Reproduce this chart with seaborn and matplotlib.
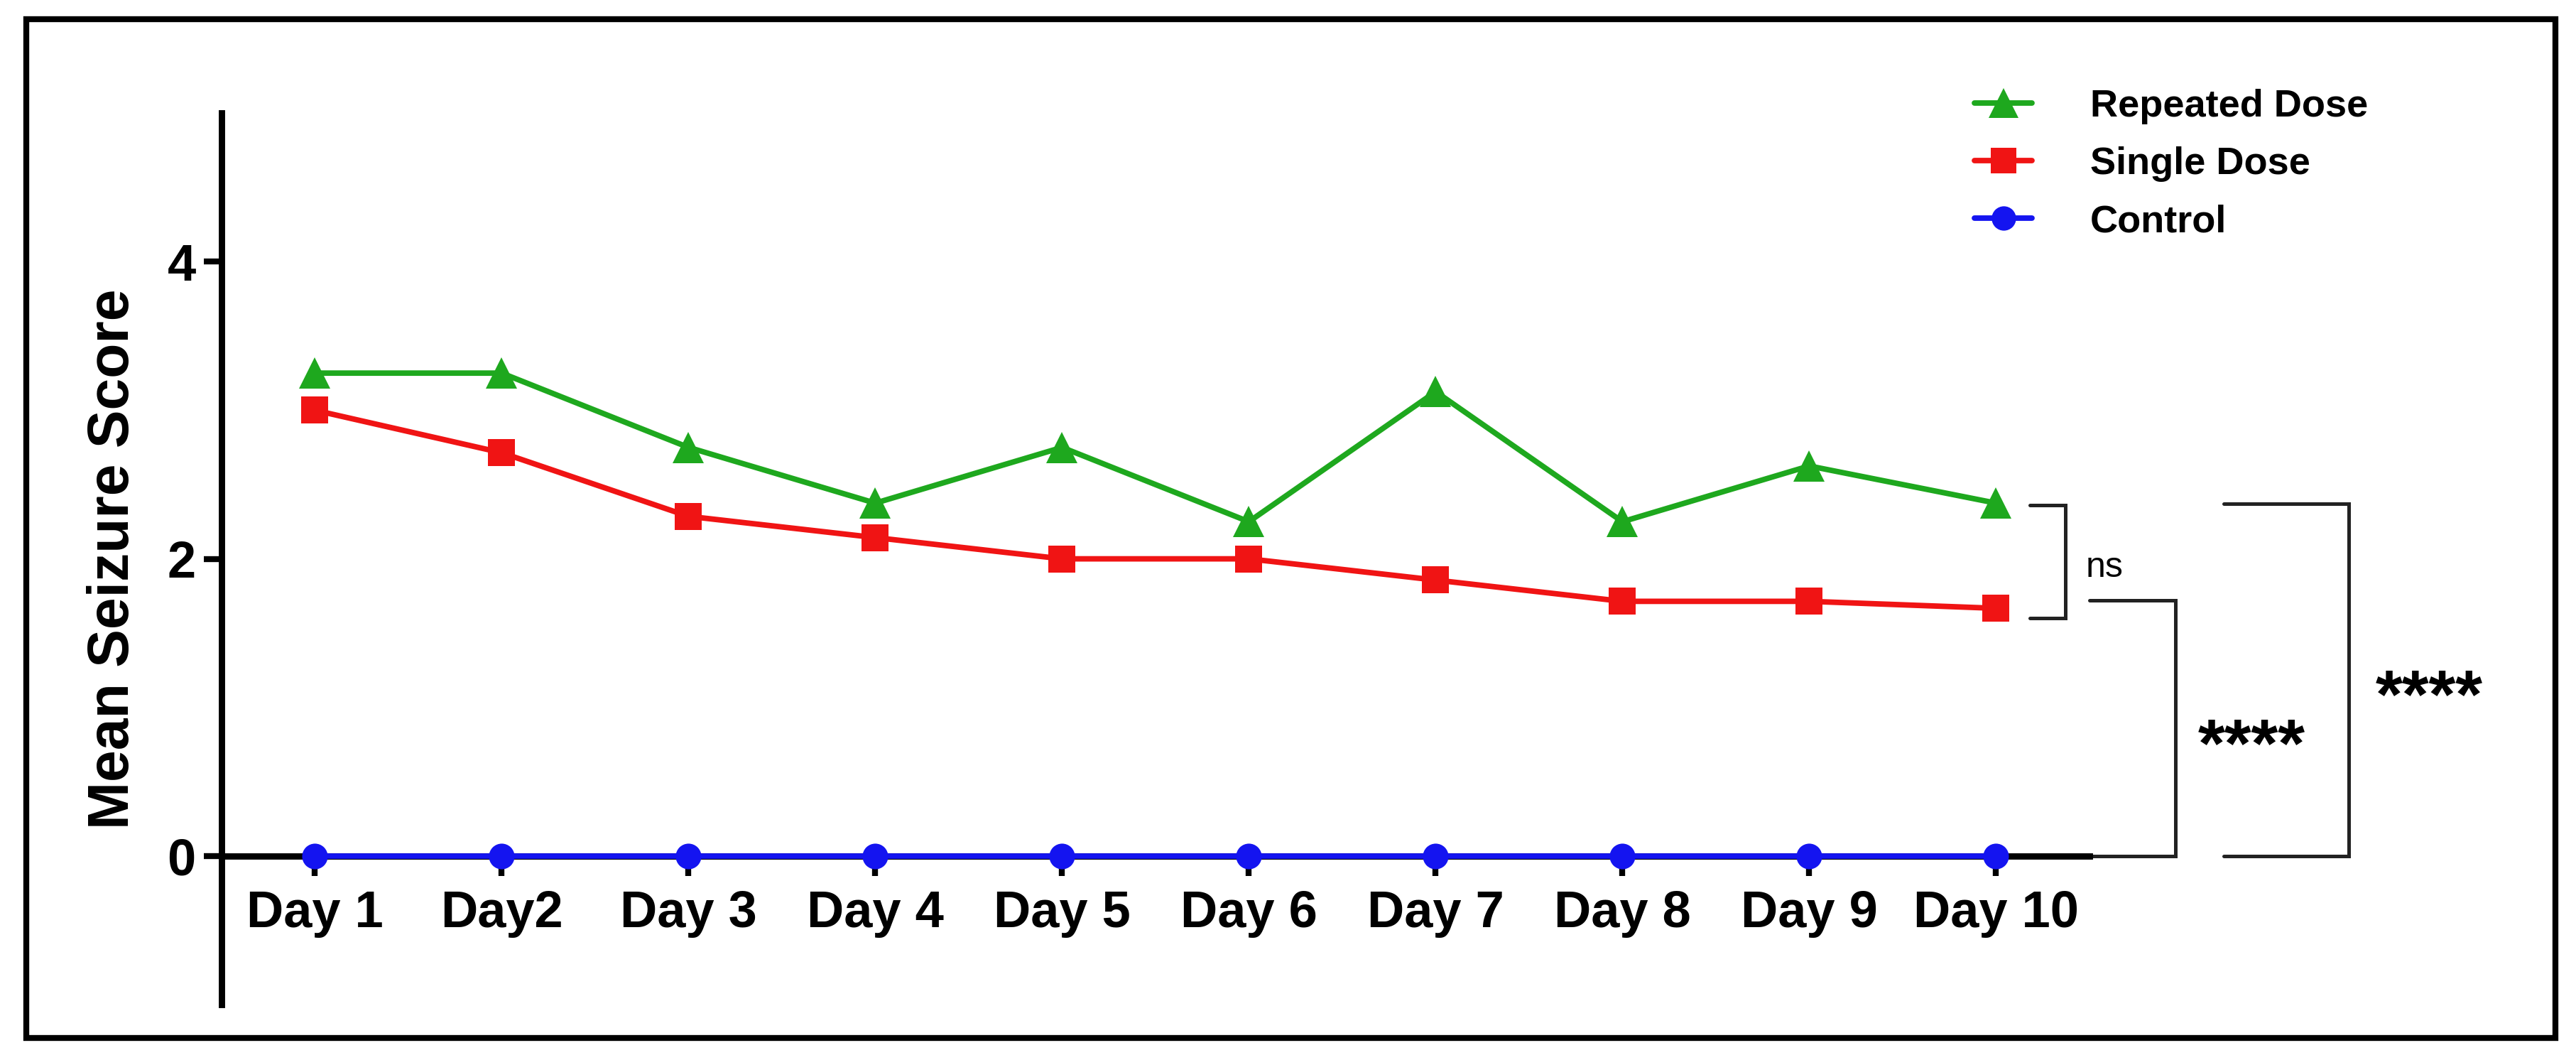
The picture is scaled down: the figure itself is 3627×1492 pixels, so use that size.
import pandas as pd
import matplotlib.pyplot as plt
import seaborn as sns
from matplotlib.patches import Rectangle

days = ['Day 1', 'Day2', 'Day 3', 'Day 4', 'Day 5', 'Day 6', 'Day 7', 'Day 8', 'Day 9', 'Day 10']
repeated_dose = [3.25, 3.25, 2.75, 2.375, 2.75, 2.25, 3.125, 2.25, 2.625, 2.375]
single_dose = [3.0, 2.714, 2.286, 2.143, 2.0, 2.0, 1.857, 1.714, 1.714, 1.667]
control = [0, 0, 0, 0, 0, 0, 0, 0, 0, 0]

groups = ['Repeated Dose', 'Single Dose', 'Control']
colors = {'Repeated Dose': '#1ea81e', 'Single Dose': '#f01414', 'Control': '#1414f0'}
markers = {'Repeated Dose': '^', 'Single Dose': 's', 'Control': 'o'}
msizes = {'Repeated Dose': 16, 'Single Dose': 13.5, 'Control': 13}

sns.set_style('ticks')
plt.rcParams['font.family'] = ['Liberation Sans', 'DejaVu Sans']
plt.rcParams.update({'text.color': 'black', 'axes.labelcolor': 'black',
                     'xtick.color': 'black', 'ytick.color': 'black',
                     'axes.edgecolor': 'black'})

fig = plt.figure(figsize=(18.135, 7.46), dpi=200)
ax = fig.add_axes([0.086, 0.0523, 0.7251, 0.841])

day_idx = list(range(len(days)))
series = {'Repeated Dose': repeated_dose, 'Single Dose': single_dose, 'Control': control}
for g in groups:
    df = pd.DataFrame({'day': day_idx, 'score': series[g]})
    sns.lineplot(data=df, x='day', y='score', color=colors[g], marker=markers[g],
                 markersize=msizes[g], markeredgewidth=0, linewidth=2.8,
                 label=g, zorder=4, clip_on=False, ax=ax)

for s in ['top', 'right']:
    ax.spines[s].set_visible(False)
ax.spines['bottom'].set_position(('data', 0))
ax.spines['left'].set_linewidth(3.2)
ax.spines['bottom'].set_linewidth(3.2)

ax.set_xlim(-0.5, 9.5)
ax.set_ylim(-1, 5)
ax.set_xticks(day_idx)
ax.set_xticklabels(days, fontsize=26, fontweight='bold')
ax.set_yticks([0, 2, 4])
ax.set_yticklabels(['0', '2', '4'], fontsize=26, fontweight='bold')
ax.set_xlabel('')
ax.set_ylabel('Mean Seizure Score', fontsize=29, fontweight='bold')
ax.yaxis.set_label_coords(-0.0433, 0.5)
ax.tick_params(axis='x', length=10, width=3, pad=7, color='black')
ax.tick_params(axis='y', length=9, width=3, pad=4, color='black')

# legend
handles, labels = ax.get_legend_handles_labels()
order = [labels.index(g) for g in groups]
leg = ax.legend([handles[i] for i in order], [labels[i] for i in order],
                loc='upper left', bbox_to_anchor=(0.7665, 0.916),
                bbox_transform=fig.transFigure, frameon=False,
                prop={'size': 19.5, 'weight': 'bold'}, handlelength=1.5,
                handletextpad=1.5, labelspacing=0.57, borderpad=0,
                borderaxespad=0, markerscale=0.95)

# significance brackets
bk = dict(color='#222222', lw=1.8, clip_on=False, solid_joinstyle='miter')
ax.plot([9.18, 9.37, 9.37, 9.18], [2.36, 2.36, 1.60, 1.60], **bk)
ax.plot([9.50, 9.96, 9.96, 9.50], [1.72, 1.72, 0, 0], **bk)
ax.plot([10.22, 10.89, 10.89, 10.22], [2.37, 2.37, 0, 0], **bk)
ax.text(9.48, 1.94, 'ns', fontsize=18, ha='left', va='center', clip_on=False)
ax.text(10.37, 0.72, '****', fontsize=35, fontweight='bold', ha='center', va='center')
ax.text(11.32, 1.05, '****', fontsize=35, fontweight='bold', ha='center', va='center')

# outer frame
fig.add_artist(Rectangle((0.0103, 0.0208), 0.992 - 0.0103, 0.9816 - 0.0208,
                         transform=fig.transFigure, fill=False, lw=3, ec='black'))

fig.savefig('out.png', dpi=200)
